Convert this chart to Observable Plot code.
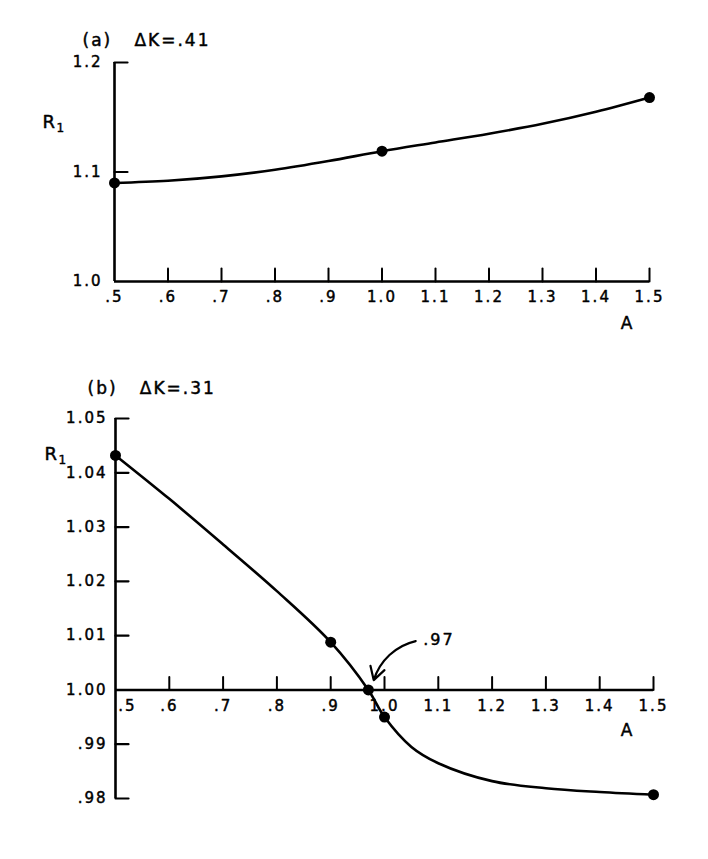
<!DOCTYPE html>
<html>
<head>
<meta charset="utf-8">
<script src="https://cdn.jsdelivr.net/npm/d3@7"></script>
<script src="https://cdn.jsdelivr.net/npm/@observablehq/plot@0.6"></script>
<style>
  body { margin: 0; background: #fff; }
  #wrap { position: relative; width: 708px; height: 859px; overflow: hidden; background: #fff; }
  #wrap svg { position: absolute; left: 0; }
</style>
</head>
<body>
<div id="wrap"></div>
<script>
// ---------- Panel (a) ----------
const titleA = "(a)   ΔK=.41";
const aTicksA = [0.5, 0.6, 0.7, 0.8, 0.9, 1.0, 1.1, 1.2, 1.3, 1.4, 1.5];
const aLabelsA = [".5", ".6", ".7", ".8", ".9", "1.0", "1.1", "1.2", "1.3", "1.4", "1.5"];
const rTicksA = [1.0, 1.1, 1.2];
const rLabelsA = ["1.0", "1.1", "1.2"];
const dotA_A = [0.5, 1.0, 1.5];
const dotR_A = [1.090, 1.119, 1.168];
const curveA_A = [0.5, 0.6, 0.7, 0.8, 0.9, 1.0, 1.1, 1.2, 1.3, 1.4, 1.5];
const curveR_A = [1.090, 1.092, 1.096, 1.102, 1.110, 1.119, 1.127, 1.135, 1.144, 1.155, 1.168];

// ---------- Panel (b) ----------
const titleB = "(b)   ΔK=.31";
const aTicksB = [0.5, 0.6, 0.7, 0.8, 0.9, 1.0, 1.1, 1.2, 1.3, 1.4, 1.5];
const aLabelsB = [".5", ".6", ".7", ".8", ".9", "1.0", "1.1", "1.2", "1.3", "1.4", "1.5"];
const rTicksB = [1.05, 1.04, 1.03, 1.02, 1.01, 1.00, 0.99, 0.98];
const rLabelsB = ["1.05", "1.04", "1.03", "1.02", "1.01", "1.00", ".99", ".98"];
const dotA_B = [0.5, 0.9, 0.97, 1.0, 1.5];
const dotR_B = [1.0432, 1.0088, 1.000, 0.995, 0.9807];
const curveA_B = [0.5, 0.6, 0.7, 0.8, 0.9, 0.97, 1.0, 1.05, 1.1, 1.2, 1.3, 1.4, 1.5];
const curveR_B = [1.0432, 1.0352, 1.0268, 1.0182, 1.0088, 1.000, 0.995, 0.9895, 0.9865, 0.9832, 0.9819, 0.9812, 0.9807];
const noteText = ".97";
const noteA = 1.072;       // label position
const noteR = 1.0092;
const arrowFromA = 1.058, arrowFromR = 1.0090;
const arrowToA = 0.980, arrowToR = 1.0018;

// ---------- helpers ----------
const zip = (xs, ys) => xs.map((a, i) => ({a, r: ys[i]}));
const tickShape = {draw(context, l) { context.moveTo(0, 0); context.lineTo(0, -l); }};
const font = '"DejaVu Sans", sans-serif';
const baseStyle = {fontFamily: font, fontSize: "15px", letterSpacing: "2px", background: "transparent", color: "#000", overflow: "visible"};
const ink = {fill: "#000", stroke: "#000", strokeWidth: 0.45};

function panel({aTicks, aLabels, rTicks, rLabels, rDomain, dots, curve, axisR,
                width, height, mL, mR, mT, mB, yLabDx, firstXLabDx, extra = []}) {
  const innerX = aTicks.filter(d => d !== aTicks[0]);
  const innerY = rTicks.filter(d => d !== axisR);
  return Plot.plot({
    width, height, marginLeft: mL, marginRight: mR, marginTop: mT, marginBottom: mB,
    x: {domain: [aTicks[0], aTicks[aTicks.length - 1]], axis: null},
    y: {domain: rDomain, axis: null},
    style: baseStyle,
    marks: [
      Plot.ruleX([aTicks[0]], {stroke: "#000", strokeWidth: 2.6}),
      Plot.ruleY([axisR], {stroke: "#000", strokeWidth: 2.6}),
      Plot.vector(innerX, {x: d => d, y: () => axisR, length: 13, rotate: 0, anchor: "start", shape: tickShape, stroke: "#000", strokeWidth: 2}),
      Plot.vector(innerY, {x: () => aTicks[0], y: d => d, length: 13, rotate: 90, anchor: "start", shape: tickShape, stroke: "#000", strokeWidth: 2.2}),
      Plot.text(aTicks.slice(1), {x: d => d, y: () => axisR, text: (d, i) => aLabels[i + 1], dy: 16, ...ink}),
      Plot.text([aTicks[0]], {x: d => d, y: () => axisR, text: () => aLabels[0], dy: 16, dx: firstXLabDx, ...ink}),
      Plot.text(rTicks, {x: () => aTicks[0], y: d => d, text: (d, i) => rLabels[i], textAnchor: "end", dx: yLabDx, ...ink}),
      Plot.line(curve, {x: "a", y: "r", curve: "catmull-rom", stroke: "#000", strokeWidth: 2.6}),
      Plot.dot(dots, {x: "a", y: "r", r: 5.5, fill: "#000", stroke: "none"}),
      ...extra
    ]
  });
}

const wrap = document.getElementById("wrap");

// Panel (a): frame 114..649 x 62..281
const svgA = panel({
  aTicks: aTicksA, aLabels: aLabelsA, rTicks: rTicksA, rLabels: rLabelsA,
  rDomain: [1.0, 1.2], dots: zip(dotA_A, dotR_A), curve: zip(curveA_A, curveR_A), axisR: 1.0,
  width: 708, height: 400, mL: 114, mR: 59, mT: 62, mB: 119, yLabDx: -12, firstXLabDx: 0,
  extra: [
    Plot.text([titleA], {frameAnchor: "top-left", textAnchor: "start", dx: -32, dy: -29, fontSize: 17, letterSpacing: "3px", ...ink}),
    Plot.text(["R"], {frameAnchor: "top-left", dx: -72, dy: 53, fontSize: 18, letterSpacing: "0px", ...ink}),
    Plot.text(["1"], {frameAnchor: "top-left", dx: -58, dy: 61, fontSize: 12, letterSpacing: "0px", ...ink}),
    Plot.text(["A"], {frameAnchor: "bottom-right", dx: -15, dy: 47, fontSize: 17, letterSpacing: "0px", ...ink})
  ]
});
svgA.style.top = "0px";
wrap.appendChild(svgA);

// Panel (b): frame 115..653 x 418..798 (svg placed at top 400)
const svgB = panel({
  aTicks: aTicksB, aLabels: aLabelsB, rTicks: rTicksB, rLabels: rLabelsB,
  rDomain: [0.98, 1.05], dots: zip(dotA_B, dotR_B), curve: zip(curveA_B, curveR_B), axisR: 1.00,
  width: 708, height: 459, mL: 115, mR: 55, mT: 18, mB: 61, yLabDx: -8, firstXLabDx: 12,
  extra: [
    Plot.text([titleB], {frameAnchor: "top-left", textAnchor: "start", dx: -28, dy: -37, fontSize: 17, letterSpacing: "3px", ...ink}),
    Plot.text(["R"], {frameAnchor: "top-left", dx: -71, dy: 29, fontSize: 18, letterSpacing: "0px", ...ink}),
    Plot.text(["1"], {frameAnchor: "top-left", dx: -57, dy: 37, fontSize: 12, letterSpacing: "0px", ...ink}),
    Plot.text(["A"], {frameAnchor: "bottom-right", dx: -19, dy: -63, fontSize: 17, letterSpacing: "0px", ...ink}),
    Plot.text([noteText], {x: () => noteA, y: () => noteR, textAnchor: "start", fontSize: 16, ...ink}),
    Plot.arrow([{x1: arrowFromA, y1: arrowFromR, x2: arrowToA, y2: arrowToR}],
      {x1: "x1", y1: "y1", x2: "x2", y2: "y2", bend: -30, headLength: 10, stroke: "#000", strokeWidth: 2.2})
  ]
});
svgB.style.top = "400px";
wrap.appendChild(svgB);
</script>
</body>
</html>
